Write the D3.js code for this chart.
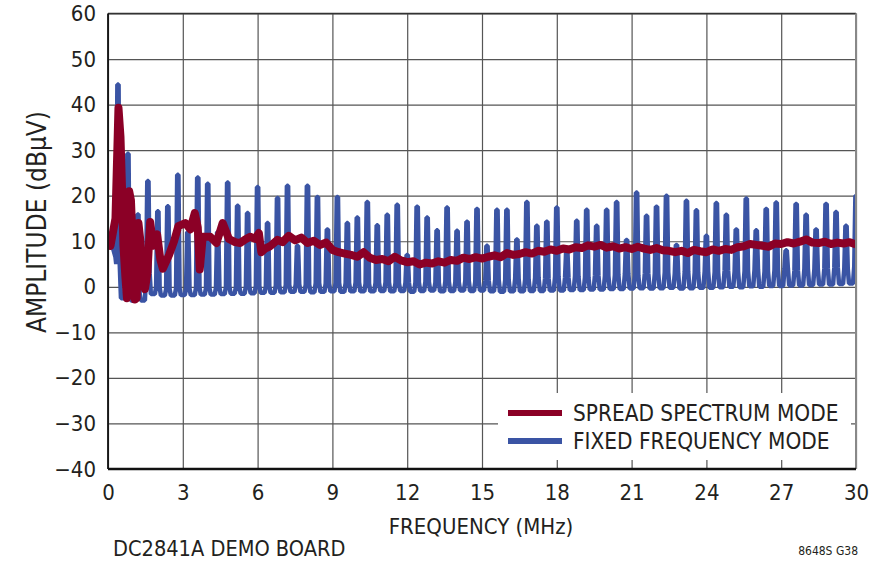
<!DOCTYPE html>
<meta charset="utf-8">
<style>
body { margin: 0; background: #fff; }
svg text {
  font-family: "Liberation Sans Narrow", "Arial Narrow", "DejaVu Sans Condensed", sans-serif;
  fill: #231f20;
}
.grid line { stroke: #555; stroke-width: 1.2px; }
.grid .domain { display: none; }
</style>
<svg width="892" height="561"></svg>
<script src="https://d3js.org/d3.v7.min.js"></script>
<script>
/* global d3 */

// tick labels
var xTicks = [0, 3, 6, 9, 12, 15, 18, 21, 24, 27, 30];
var yTicks = [-40, -30, -20, -10, 0, 10, 20, 30, 40, 50, 60];

// fixed frequency mode: harmonic spikes (MHz, dBuV)
var fixedLead = [[0, 11.5], [0.1, 10], [0.2, 8.5], [0.3, 6.5]];
var fixedFreq = [0.4, 0.8, 1.2, 1.6, 2.0, 2.4, 2.8, 3.2, 3.6, 4.0,
  4.4, 4.8, 5.2, 5.6, 6.0, 6.4, 6.8, 7.2, 7.6, 8.0,
  8.4, 8.8, 9.2, 9.6, 10.0, 10.4, 10.8, 11.2, 11.6, 12.0,
  12.4, 12.8, 13.2, 13.6, 14.0, 14.4, 14.8, 15.2, 15.6, 16.0,
  16.4, 16.8, 17.2, 17.6, 18.0, 18.4, 18.8, 19.2, 19.6, 20.0,
  20.4, 20.8, 21.2, 21.6, 22.0, 22.4, 22.8, 23.2, 23.6, 24.0,
  24.4, 24.8, 25.2, 25.6, 26.0, 26.4, 26.8, 27.2, 27.6, 28.0,
  28.4, 28.8, 29.2, 29.6, 30.0];
var fixedPeak = [44.4, 29.2, 15.9, 23.2, 16.6, 17.7, 24.6, 12, 24.0, 22.6,
  12, 22.9, 17.8, 16.2, 21.9, 14.0, 19.5, 22.2, 9, 22.2,
  19.7, 12.6, 19.7, 14.0, 15.2, 18.6, 13.5, 15.8, 18.0, 7,
  17.6, 15.2, 12.4, 17.4, 12.3, 14.3, 17.1, 9.0, 16.9, 16.9,
  10.4, 18.6, 13.4, 14.3, 17.4, 8, 14.5, 16.9, 13.4, 16.9,
  18.6, 10.3, 20.7, 15.6, 17.6, 20.0, 9.2, 18.9, 16.8, 11.2,
  18.4, 15.8, 12.6, 19.4, 12.4, 17.1, 18.5, 8, 18.2, 15.8,
  12.6, 18.2, 16.4, 13.4, 20.0];
var fixedFloor = [-2.5, -3.0, -3.0, -1.6, -1.9, -1.9, -1.8, -1.8, -1.7, -1.7,
  -1.6, -1.5, -1.5, -1.4, -1.3, -1.3, -1.2, -1.1, -1.1, -1.2,
  -1.1, -1.0, -1.1, -1.0, -1.0, -1.0, -0.9, -1.0, -0.9, -1.1,
  -0.9, -0.8, -1.0, -0.9, -0.8, -0.9, -0.8, -1.0, -1.1, -1.0,
  -1.0, -0.9, -0.9, -0.8, -0.8, -0.7, -0.7, -0.6, -0.6, -0.5,
  -0.5, -0.4, -0.3, -0.4, -0.3, -0.2, -0.4, -0.3, -0.2, -0.2,
  -0.1, 0.0, -0.1, 0.1, 0.0, 0.2, 0.2, 0.3, 0.3, 0.4,
  0.5, 0.5, 0.6, 0.7, 0.8];
var fixedShoulder = [5, -1.5, -1.5, 3, 0, -0.5, -0.3, -0.5, -0.2, -0.3,
  -0.2, 0, -0.1, 0.1, 0.2, 0.1, 0.3, 0.4, 0.6, 0.5,
  0.8, 0.7, 0.9, 0.8, 1.0, 0.7, 0.9, 1.0, 0.8, 0.9,
  1.0, 1.1, 0.9, 1.2, 1.0, 1.3, 1.1, 1.4, 1.6, 1.5,
  1.8, 1.6, 2.0, 1.9, 2.2, 2.0, 2.3, 2.1, 2.5, 2.4,
  2.6, 2.8, 2.5, 3.0, 2.9, 3.2, 2.8, 3.3, 3.1, 3.4,
  3.2, 3.6, 3.3, 3.5, 3.8, 3.4, 3.7, 3.9, 3.6, 4.0,
  3.8, 4.1, 4.2, 4.0, 4.5];

// spread spectrum mode trace
var spreadFreq = [0, 0.1, 0.2, 0.3, 0.42, 0.5, 0.56, 0.62, 0.7, 0.76,
  0.85, 0.92, 1.0, 1.08, 1.15, 1.22, 1.3, 1.38, 1.48, 1.58,
  1.69, 1.82, 1.97, 2.1, 2.2, 2.45, 2.65, 2.82, 3.1, 3.3,
  3.48, 3.6, 3.68, 3.8, 4.1, 4.35, 4.6, 4.85, 5.1, 5.3,
  5.5, 5.7, 5.9, 6.05, 6.15, 6.3, 6.5, 6.8, 7.0, 7.25,
  7.5, 7.75, 8.0, 8.25, 8.5, 8.75, 9.0, 9.25, 9.5, 9.75,
  10.0, 10.25, 10.5, 10.75, 11.0, 11.25, 11.5, 11.75, 12.0, 12.25,
  12.5, 12.75, 13.0, 13.25, 13.5, 13.75, 14.0, 14.25, 14.5, 14.75,
  15.0, 15.25, 15.5, 15.75, 16.0, 16.25, 16.5, 16.75, 17.0, 17.25,
  17.5, 17.75, 18.0, 18.25, 18.5, 18.75, 19.0, 19.25, 19.5, 19.75,
  20.0, 20.25, 20.5, 20.75, 21.0, 21.25, 21.5, 21.75, 22.0, 22.25,
  22.5, 22.75, 23.0, 23.25, 23.5, 23.75, 24.0, 24.25, 24.5, 24.75,
  25.0, 25.25, 25.5, 25.75, 26.0, 26.25, 26.5, 26.75, 27.0, 27.25,
  27.5, 27.75, 28.0, 28.25, 28.5, 28.75, 29.0, 29.25, 29.5, 29.75, 30.0];
var spreadAmp = [11, 9, 12, 15, 39.3, 33, 22, 9, 2, -2.5,
  21, 19, 8, -2.8, -2.5, 14, 10, 1.5, -0.5, 3,
  14.2, 9, 11.5, 6, 4, 7, 10, 13.3, 14, 12.6,
  16.2, 13, 3.8, 11, 11, 9.6, 14, 10.5, 9.8, 9.6,
  10.4, 11, 10.5, 11.8, 7.6, 8.4, 8.9, 10.3, 9.8, 11.2,
  10.2, 10.8, 9.6, 10.1, 9.2, 9.7, 8.1, 7.6, 7.3, 7.0,
  6.6, 7.6, 6.4, 5.9, 6.1, 5.6, 6.6, 5.8, 5.4, 5.6,
  4.9, 5.3, 5.1, 5.6, 5.3, 5.9, 5.7, 6.4, 6.1, 6.5,
  6.2, 6.6, 6.9, 6.5, 7.4, 7.0, 7.2, 7.6, 7.3, 7.9,
  7.7, 8.2, 7.9, 8.4, 8.2, 8.7, 8.5, 9.1, 8.8, 9.2,
  8.6, 8.9, 8.4, 8.7, 8.3, 8.8, 8.4, 8.1, 8.5, 8.0,
  7.9, 7.6, 7.9, 7.4, 8.1, 7.8, 7.6, 8.2, 7.9, 8.3,
  8.1, 8.7, 8.9, 9.4, 9.2, 9.0, 8.8, 9.5, 9.4, 9.8,
  9.5, 9.9, 10.4, 9.7, 9.6, 9.9, 9.4, 9.7, 9.5, 9.8, 9.3];

var legendNames = ["SPREAD SPECTRUM MODE", "FIXED FREQUENCY MODE"];
var colors = ["#8b0026", "#3a54a4"];

var svg = d3.select("svg"),
    plotLeft = 108, plotRight = 856, plotTop = 13.5, plotBottom = 469;

var x = d3.scaleLinear().domain([0, 30]).range([plotLeft, plotRight]);
var y = d3.scaleLinear().domain([-40, 60]).range([plotBottom, plotTop]);

// gridlines + tick labels
svg.append("g")
    .attr("class", "grid")
    .attr("transform", "translate(0," + plotBottom + ")")
    .call(d3.axisBottom(x).tickValues(xTicks).tickSize(-(plotBottom - plotTop)).tickPadding(15));
svg.append("g")
    .attr("class", "grid")
    .attr("transform", "translate(" + plotLeft + ",0)")
    .call(d3.axisLeft(y).tickValues(yTicks).tickSize(-(plotRight - plotLeft)).tickPadding(12)
      .tickFormat(function(d) { return d < 0 ? "\u2212" + Math.abs(d) : d; }));
svg.selectAll(".grid text")
    .style("font-size", "22px")
    .attr("fill", "#231f20");

// traces, clipped to the plot area
svg.append("clipPath").attr("id", "plot")
  .append("rect")
    .attr("x", plotLeft).attr("y", plotTop)
    .attr("width", plotRight - plotLeft).attr("height", plotBottom - plotTop);

var line = d3.line()
    .x(function(d) { return x(d[0]); })
    .y(function(d) { return y(d[1]); });

var fixedPts = fixedLead.slice();
fixedFreq.forEach(function(f, i) {
  fixedPts.push([f - 0.07, fixedShoulder[i]]);
  fixedPts.push([f - 0.025, fixedPeak[i]]);
  fixedPts.push([f + 0.025, fixedPeak[i]]);
  fixedPts.push([f + 0.07, fixedShoulder[i]]);
  fixedPts.push([f + 0.12, fixedFloor[i]]);
  fixedPts.push([f + 0.28, fixedFloor[i]]);
});

var spreadPts = spreadFreq.map(function(f, i) { return [f, spreadAmp[i]]; });

var traces = svg.append("g").attr("clip-path", "url(#plot)");
traces.append("path")
    .datum(fixedPts)
    .attr("d", line)
    .attr("fill", "none")
    .attr("stroke", colors[1])
    .attr("stroke-width", 4.5)
    .attr("stroke-linejoin", "bevel");
traces.append("path")
    .datum(spreadPts)
    .attr("d", line)
    .attr("fill", "none")
    .attr("stroke", colors[0])
    .attr("stroke-width", 8)
    .attr("stroke-linejoin", "round");

// frame
svg.append("line").attr("x1", plotLeft).attr("x2", plotRight).attr("y1", plotTop).attr("y2", plotTop)
    .attr("stroke", "#333").attr("stroke-width", 1.5);
svg.append("line").attr("x1", plotRight).attr("x2", plotRight).attr("y1", plotTop).attr("y2", plotBottom)
    .attr("stroke", "#888").attr("stroke-width", 2);
svg.append("line").attr("x1", plotLeft).attr("x2", plotLeft).attr("y1", plotTop).attr("y2", plotBottom)
    .attr("stroke", "#111").attr("stroke-width", 1.8);
svg.append("line").attr("x1", plotLeft).attr("x2", plotRight).attr("y1", plotBottom).attr("y2", plotBottom)
    .attr("stroke", "#111").attr("stroke-width", 2.5);

// legend
var legend = svg.append("g");
legend.append("rect")
    .attr("x", 498).attr("y", 393).attr("width", 353).attr("height", 67)
    .attr("fill", "#fff");
legendNames.forEach(function(name, i) {
  var ly = 413 + i * 28;
  legend.append("line")
      .attr("x1", 508).attr("x2", 562).attr("y1", ly).attr("y2", ly)
      .attr("stroke", colors[i]).attr("stroke-width", 6);
  legend.append("text")
      .attr("x", 573).attr("y", ly)
      .attr("dominant-baseline", "central")
      .style("font-size", "22.4px")
      .text(name);
});

// titles
svg.append("text")
    .attr("transform", "translate(37,222) rotate(-90)")
    .attr("text-anchor", "middle")
    .attr("dominant-baseline", "central")
    .style("font-size", "26px")
    .text("AMPLITUDE (dB\u03bcV)");
svg.append("text")
    .attr("x", 481).attr("y", 526)
    .attr("text-anchor", "middle")
    .attr("dominant-baseline", "central")
    .style("font-size", "22px")
    .text("FREQUENCY (MHz)");
svg.append("text")
    .attr("x", 113).attr("y", 548)
    .attr("dominant-baseline", "central")
    .style("font-size", "21.6px")
    .text("DC2841A DEMO BOARD");
svg.append("text")
    .attr("x", 858).attr("y", 551)
    .attr("text-anchor", "end")
    .attr("dominant-baseline", "central")
    .style("font-size", "12px")
    .text("8648S G38");
</script>
